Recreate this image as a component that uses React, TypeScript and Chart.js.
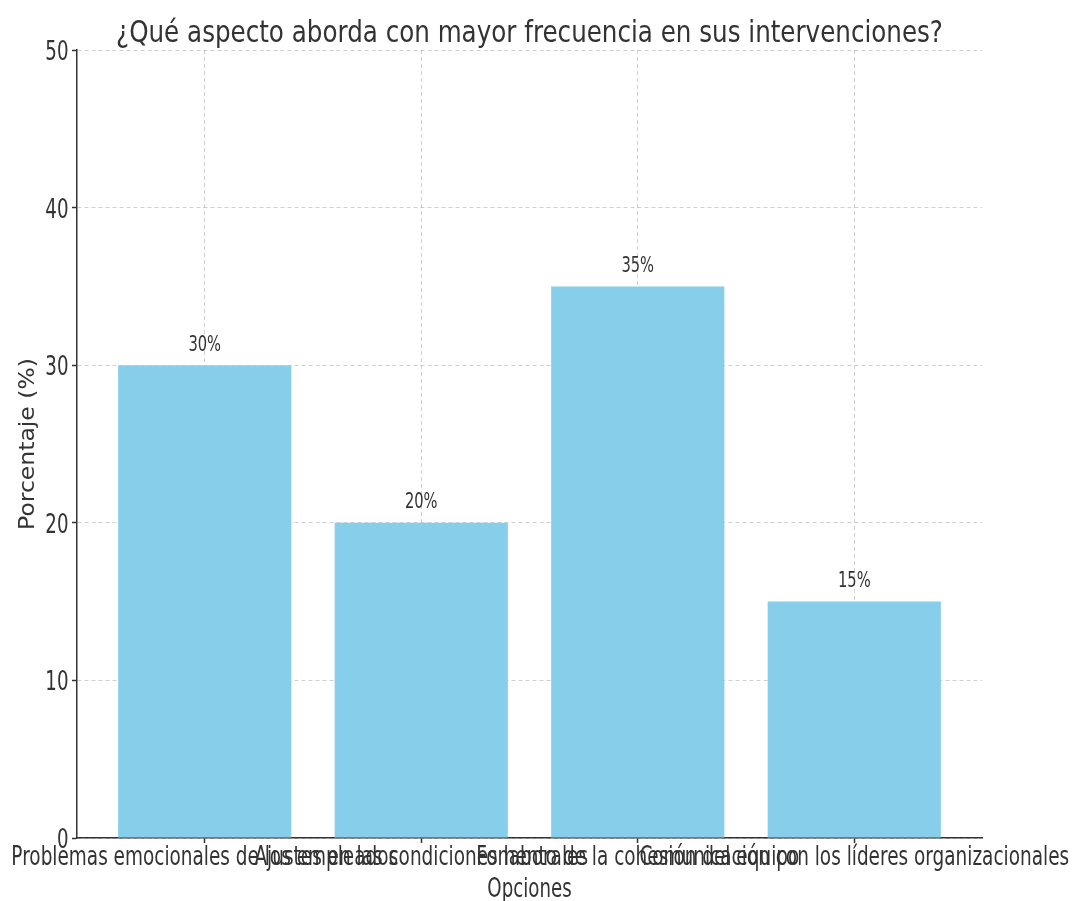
import React, { useEffect, useRef } from "react";
import { Chart, registerables } from "chart.js";

Chart.register(...registerables);

const categories = [
  "Problemas emocionales de los empleados",
  "Ajustes en las condiciones laborales",
  "Fomento de la cohesión del equipo",
  "Comunicación con los líderes organizacionales",
];
const values = [30, 20, 35, 15];
const yTicks = [0, 10, 20, 30, 40, 50];
const titleText = "¿Qué aspecto aborda con mayor frecuencia en sus intervenciones?";
const xTitle = "Opciones";
const yTitle = "Porcentaje (%)";

const REG = '"DejaVu Sans", sans-serif';
const TEXT = "#333333";

function drawText(ctx: any, s: string, x: number, y: number, size: number, align: string, k: number) {
  ctx.save();
  ctx.translate(x, y);
  ctx.scale(k, 1);
  ctx.font = `${size}px ${REG}`;
  ctx.textAlign = align;
  ctx.textBaseline = "alphabetic";
  ctx.fillStyle = TEXT;
  ctx.fillText(s, 0, 0);
  ctx.restore();
}

const textPlugin = {
  id: "textPlugin",
  afterDraw(chart: any) {
    const ctx = chart.ctx;
    const xs = chart.scales.x;
    const ys = chart.scales.y;
    const area = chart.chartArea;
    // title
    drawText(ctx, titleText, (area.left + area.right) / 2, 42, 30, "center", 0.82);
    // value labels
    values.forEach((v, i) => {
      drawText(ctx, `${v}%`, xs.getPixelForValue(i), ys.getPixelForValue(v) - 14.5, 21, "center", 0.7);
    });
    // y tick labels
    yTicks.forEach((v) => {
      drawText(ctx, String(v), area.left - 8.5, ys.getPixelForValue(v) + 10, 26, "right", 0.7);
    });
    // x tick labels
    categories.forEach((c, i) => {
      drawText(ctx, c, xs.getPixelForValue(i), area.bottom + 27, 26, "center", 0.71);
    });
    // x title
    drawText(ctx, xTitle, (area.left + area.right) / 2, area.bottom + 59, 26, "center", 0.7);
    // y title
    ctx.save();
    ctx.translate(34, (area.top + area.bottom) / 2);
    ctx.rotate(-Math.PI / 2);
    ctx.scale(1, 0.875);
    ctx.font = `23.5px ${REG}`;
    ctx.textAlign = "center";
    ctx.textBaseline = "alphabetic";
    ctx.fillStyle = TEXT;
    ctx.fillText(yTitle, 0, 0);
    ctx.restore();
  },
};

const gridOpts: any = {
  color: "rgba(0,0,0,0.18)",
  lineWidth: 1,
  drawTicks: true,
  tickLength: 5,
  tickColor: "#333333",
  tickWidth: 1.5,
  tickBorderDash: [],
};

export default function App() {
  const ref = useRef<HTMLCanvasElement | null>(null);
  useEffect(() => {
    if (!ref.current) return;
    const chart = new Chart(ref.current, {
      type: "bar",
      data: {
        datasets: [
          {
            data: values.map((v, i) => ({ x: i, y: v })),
            backgroundColor: "#87CEEB",
            borderWidth: 0,
            categoryPercentage: 1,
            barPercentage: 0.8,
          },
        ],
      },
      options: {
        animation: false,
        responsive: false,
        maintainAspectRatio: false,
        layout: { padding: { left: 0, right: 90, top: 50, bottom: 0 } },
        plugins: { legend: { display: false }, tooltip: { enabled: false }, title: { display: false } },
        scales: {
          x: {
            type: "linear",
            min: -0.59,
            max: 3.59,
            offset: false,
            z: 1,
            afterBuildTicks: (s: any) => {
              s.ticks = categories.map((_, i) => ({ value: i }));
            },
            afterFit: (s: any) => {
              s.height = 63;
            },
            ticks: { display: false },
            grid: { ...gridOpts, offset: false },
            border: { display: true, color: "#333333", width: 1.5, dash: [4, 3] },
          },
          y: {
            min: 0,
            max: 50,
            z: 1,
            afterBuildTicks: (s: any) => {
              s.ticks = yTicks.map((v) => ({ value: v }));
            },
            afterFit: (s: any) => {
              s.width = 77;
            },
            ticks: { display: false },
            grid: gridOpts,
            border: { display: true, color: "#333333", width: 1.5, dash: [4, 3] },
          },
        },
      } as any,
      plugins: [textPlugin],
    });
    return () => chart.destroy();
  }, []);
  return (
    <div style={{ position: "fixed", left: 0, top: 0, width: 1072, height: 901, background: "#fff" }}>
      <canvas ref={ref} width={1072} height={901} style={{ width: 1072, height: 901 }} />
    </div>
  );
}
